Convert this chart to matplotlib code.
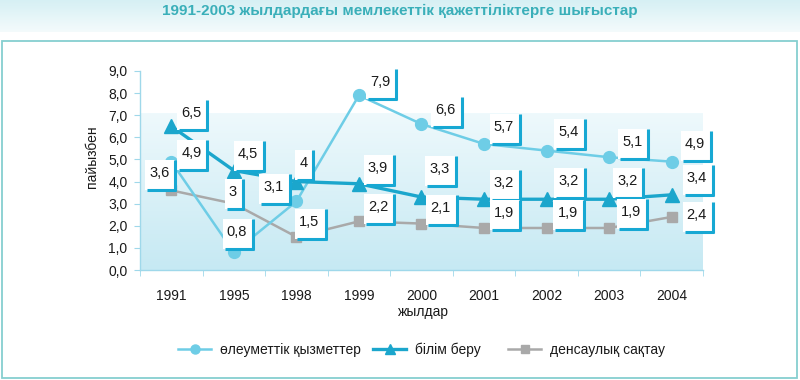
import numpy as np
import matplotlib
matplotlib.use('Agg')
import matplotlib.pyplot as plt
from matplotlib.lines import Line2D
from matplotlib.patches import Rectangle
from matplotlib.colors import LinearSegmentedColormap
from matplotlib.transforms import IdentityTransform

plt.rcParams['font.family'] = ['Liberation Sans', 'DejaVu Sans']

# ---------------- data ----------------
years = ['1991', '1995', '1998', '1999', '2000', '2001', '2002', '2003', '2004']
social = [4.9, 0.8, 3.1, 7.9, 6.6, 5.7, 5.4, 5.1, 4.9]
education = [6.5, 4.5, 4.0, 3.9, 3.3, 3.2, 3.2, 3.2, 3.4]
health = [3.6, 3.0, 1.5, 2.2, 2.1, 1.9, 1.9, 1.9, 2.4]
series_names = ['өлеуметтік қызметтер', 'білім беру', 'денсаулық сақтау']
y_ticks = [0, 1, 2, 3, 4, 5, 6, 7, 8, 9]
title = '1991-2003 жылдардағы мемлекеттік қажеттіліктерге шығыстар'
x_title = 'жылдар'
y_title = 'пайызбен'

# label offsets (pixels, y up) from each point to its label centre
off_social = [(20, 9), (3, 20), (-23, 14), (21, 13), (24, 14), (20, 17), (22, 19), (23, 15), (23, 18)]
off_edu = [(20, 13), (14, 17), (7, 19), (19, 16), (18, 28), (20, 16), (22, 18), (18, 18), (25, 17)]
off_health = [(-12, 17), (-1, 12), (13, 15), (19, 14), (19, 16), (20, 15), (21, 15), (22, 16), (25, 2)]

W, H = 800, 380
fig = plt.figure(figsize=(W / 100, H / 100), dpi=100)
fig.patch.set_facecolor('white')

# title band
band = fig.add_axes([0, 1 - 32 / H, 1, 32 / H], zorder=-5)
band.axis('off')
grad_band = np.linspace(0, 1, 64).reshape(-1, 1)
band.imshow(grad_band, aspect='auto', cmap=LinearSegmentedColormap.from_list('b', ['#d6f0f4', '#f4fbfc']),
            extent=[0, 1, 0, 1], origin='upper')
band.set_xlim(0, 1); band.set_ylim(0, 1)
fig.text(0.5, 1 - 11 / H, title, ha='center', va='center', fontsize=11, fontweight='bold', color='#3aafb9')

# frame
fig.patches.append(Rectangle((1.5 / W, 2 / H), 795.5 / W, 337 / H, transform=fig.transFigure,
                             fill=False, ec='#86cfd0', lw=1.3, zorder=-4))

ax = fig.add_axes([140 / W, (H - 270) / H, (703 - 140) / W, (270 - 71) / H])
ax.set_facecolor('none')
x = np.arange(len(years))

# gradient background
cmap_bg = LinearSegmentedColormap.from_list('bg', ['#eef9fc', '#c6e9f3'])
ax.imshow(np.linspace(0, 1, 100).reshape(-1, 1), aspect='auto', cmap=cmap_bg,
          extent=[-0.5, len(years) - 0.45, 0, 7.1], origin='upper', zorder=0)
ax.set_xlim(-0.5, len(years) - 0.5)
ax.set_ylim(0, 9)

c_soc, c_edu, c_hea = '#6ecde6', '#1ba6cc', '#a9a9a9'
ax.plot(x, health, color=c_hea, lw=1.8, marker='s', ms=7, mec=c_hea, mfc=c_hea, zorder=2)
ax.plot(x, social, color=c_soc, lw=1.8, marker='o', ms=8.5, mec=c_soc, mfc=c_soc, zorder=2.2)
ax.plot(x, education, color=c_edu, lw=2.4, marker='^', ms=9.5, mec=c_edu, mfc=c_edu, zorder=2.4)

for s in ['top', 'right']:
    ax.spines[s].set_visible(False)
for s in ['left', 'bottom']:
    ax.spines[s].set_color('#9fd8ea')
    ax.spines[s].set_linewidth(1.0)

ax.set_yticks(y_ticks)
ax.set_yticklabels([f'{v:.1f}'.replace('.', ',') for v in y_ticks])
ax.set_xticks(x)
ax.set_xticklabels(years)
ax.set_xticks(np.arange(len(years) + 1) - 0.5, minor=True)
ax.tick_params(axis='y', length=4, color='#9fd8ea', labelsize=10, labelcolor='#1a1a1a', pad=5)
ax.tick_params(axis='x', which='major', length=0, labelsize=10, labelcolor='#1a1a1a', pad=14)
ax.tick_params(axis='x', which='minor', length=4, color='#9fd8ea')

fig.text(92 / W, 1 - 157 / H, y_title, rotation=90, ha='center', va='center', fontsize=10, color='#1a1a1a')
fig.text(423 / W, 1 - 312 / H, x_title, ha='center', va='center', fontsize=10, color='#1a1a1a')

# labels
def fmt(v):
    return str(int(v)) if v == int(v) else f'{v:.1f}'.replace('.', ',')

texts = []
k = 0
for vals, offs in [(social, off_social), (education, off_edu), (health, off_health)]:
    for i, (v, o) in enumerate(zip(vals, offs)):
        z = 5 + 0.01 * k
        t = ax.annotate(fmt(v), (x[i], v), xytext=o, textcoords='offset pixels', ha='center', va='center',
                        fontsize=10.5, color='#1a1a1a', zorder=z + 0.008, annotation_clip=False)
        texts.append((t, z))
        k += 1

fig.canvas.draw()
r = fig.canvas.get_renderer()
bc = '#17a8d3'
for t, z in texts:
    bb = t.get_window_extent(r)
    cx = (bb.x0 + bb.x1) / 2
    cy = (bb.y0 + bb.y1) / 2
    hw = (bb.x1 - bb.x0) / 2
    left, right = cx - hw - 4, cx + hw + 6
    top, bottom = cy + 13, cy - 17
    ax.add_patch(Rectangle((left, bottom), right - left, top - bottom, transform=IdentityTransform(),
                           fc='white', ec='none', zorder=z, clip_on=False))
    ax.add_line(Line2D([right, right], [top, bottom - 1], transform=IdentityTransform(), color=bc,
                       lw=2.2, zorder=z + 0.004, clip_on=False, solid_capstyle='butt'))
    ax.add_line(Line2D([left + 2, right + 1], [bottom, bottom], transform=IdentityTransform(), color=bc,
                       lw=2.2, zorder=z + 0.004, clip_on=False, solid_capstyle='butt'))

# legend
handles = [Line2D([], [], color=c_soc, lw=1.8, marker='o', ms=6.5, mfc=c_soc, mec=c_soc),
           Line2D([], [], color=c_edu, lw=2.4, marker='^', ms=7.5, mfc=c_edu, mec=c_edu),
           Line2D([], [], color=c_hea, lw=1.8, marker='s', ms=5.5, mfc=c_hea, mec=c_hea)]
for h, name, xs in zip(handles, series_names, [178, 373, 508]):
    fig.legend(handles=[h], labels=[name], loc='center left', bbox_to_anchor=(xs / W, 1 - 350 / H),
               frameon=False, borderpad=0, borderaxespad=0, handlelength=2.4, handletextpad=0.6,
               fontsize=10, labelcolor='#1a1a1a')

fig.savefig('out.png', dpi=100, facecolor='white')
